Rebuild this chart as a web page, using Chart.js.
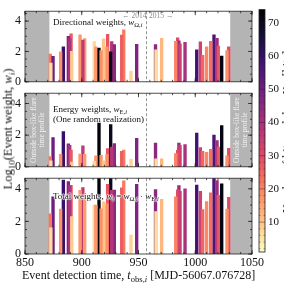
<!DOCTYPE html>
<html>
<head>
<meta charset="utf-8">
<script src="https://cdn.jsdelivr.net/npm/chart.js@4.4.1/dist/chart.umd.min.js"></script>
<style>
  body { margin: 0; background: #fff; }
  #wrap { position: relative; width: 284px; height: 286px; overflow: hidden; font-family: 'Liberation Serif', serif; color: #111; }
  canvas { position: absolute; }
  .txt { position: absolute; white-space: nowrap; line-height: 1; }
  .txt sub { font-size: 72%; vertical-align: -0.3em; line-height: 0; }
  .rot { transform: translate(-50%, -50%) rotate(-90deg); text-align: center; }
  .halo { text-shadow: 0 0 1px #fff, 0 0 1px #fff, 1px 0 1px #fff, -1px 0 1px #fff, 0 1px 1px #fff, 0 -1px 1px #fff; }
</style>
</head>
<body>
<div id="wrap">
  <canvas id="dirChart" style="left:0px;top:0px" width="284" height="93"></canvas>
  <canvas id="energyChart" style="left:0px;top:82px" width="284" height="96"></canvas>
  <canvas id="totalChart" style="left:0px;top:167px" width="284" height="119"></canvas>
  <canvas id="colourBar" style="left:250px;top:0px" width="34" height="286"></canvas>

  <div class="txt rot" style="left:8px;top:129px;font-size:12.5px">Log<sub>10</sub>(Event weight, <i>w<sub>i</sub></i>)</div>
  <div class="txt" style="left:22px;top:269px;font-size:12px">Event detection time, <i>t</i><sub>obs,<i>i</i></sub> [MJD-56067.076728]</div>

  <div class="txt" style="left:122px;top:12px;font-size:7.5px;color:#8a8a8a;width:22px;text-align:right">&larr; 2014</div>
  <div class="txt" style="left:149px;top:12px;font-size:7.5px;color:#8a8a8a">2015 &rarr;</div>
  <div class="txt" style="left:53px;top:18px;font-size:9px">Directional weights, <i>w</i><sub>&Omega;,<i>i</i></sub></div>
  <div class="txt" style="left:53px;top:105px;font-size:9px">Energy weights, <i>w</i><sub>E,<i>i</i></sub></div>
  <div class="txt" style="left:53px;top:115px;font-size:9px">(One random realization)</div>
  <div class="txt halo" style="left:53px;top:192px;font-size:9px">Total weights, <i>w<sub>i</sub></i> = <i>w</i><sub>&Omega;,<i>i</i></sub> &middot; <i>w</i><sub>E,<i>i</i></sub></div>

  <div class="txt rot" style="left:38px;top:130px;font-size:7.5px;color:#f2f2f2;line-height:1.1">Outside box-like flare<br>time profile</div>
  <div class="txt rot" style="left:241px;top:130px;font-size:7.5px;color:#f2f2f2;line-height:1.1">Outside box-like flare<br>time profile</div>

  <div class="txt rot" style="left:287px;top:132px;font-size:12px">Number of hit modules, <i>N</i><sub>ch</sub> [hits]</div>
</div>

<script>
// Events: detection time, colour-bar value, log10 weights
const eventTimes = [872.3, 872.8, 874.7, 881.4, 883.8, 888.2, 889.4, 890.6, 891.2, 898.5,
                    901.0, 902.6, 911.0, 912.4, 915.2, 917.0, 919.2, 922.2, 922.8, 925.5,
                    926.4, 928.7, 935.2, 937.0, 943.4, 948.4, 965.0, 965.4, 970.4, 982.8,
                    984.5, 985.6, 986.6, 991.0, 1001.3, 1004.5, 1006.5, 1010.0, 1013.6, 1016.5,
                    1019.2, 1020.3, 1023.3, 1028.0, 1029.5];
const eventColour = [22, 6, 50, 18, 60, 47, 40, 27, 9, 17,
                     36, 16, 7, 17, 73, 18, 10, 18, 28, 70,
                     38, 45, 26, 21, 8, 47, 45, 6, 12, 20,
                     30, 43, 34, 40, 58, 33, 25, 19, 23, 56,
                     42, 28, 72, 18, 30];
const logWeightDir = [1.82, 1.24, 1.67, 1.98, 2.31, 3.00, 2.85, 3.16, 2.00, 3.10,
                      2.75, 2.85, 2.65, 2.30, 2.22, 2.05, 2.83, 2.30, 3.12, 1.98,
                      2.65, 2.45, 3.08, 3.43, 0.69, 2.47, 2.45, 2.10, 2.86, 2.66,
                      2.90, 2.70, 2.50, 2.60, 2.10, 2.63, 1.75, 2.30, 2.66, 3.10,
                      2.86, 2.35, 1.70, 2.05, 2.30];
const logWeightEnergy = [0.64, 0.37, 1.84, 0.78, 2.23, 1.45, 1.35, 1.06, 0.30, 0.80,
                         1.32, 0.78, 0.35, 0.70, 2.77, 0.72, 0.37, 0.78, 1.15, 2.67,
                         1.25, 1.47, 0.98, 1.06, 0.47, 1.80, 1.50, 0.50, 0.50, 0.84,
                         1.04, 1.50, 1.35, 1.40, 2.13, 1.22, 0.97, 0.92, 1.10, 2.00,
                         1.65, 1.25, 2.60, 0.70, 1.17];

const xTicks = [850, 900, 950, 1000, 1050];
const yTicks = [0, 2, 4];
const colourTicks = [10, 20, 30, 40, 50, 60, 70];
const shadedSpans = [[850, 871.5], [1030.8, 1050]];
const yearBoundary = 956.5;

const X_MIN = 850, X_MAX = 1050, Y_MAX = 4.65;
const C_MIN = 1, C_MAX = 74;
const FONT = 'Liberation Serif';

// matplotlib magma, sampled every 0.1
const magma = ['#000004', '#140e36', '#3b0f70', '#641a80', '#8c2981', '#b73779',
               '#de4968', '#f7705c', '#fe9f6d', '#fecf92', '#fcfdbf'];

function hexToRgb(h) {
    return [parseInt(h.slice(1, 3), 16), parseInt(h.slice(3, 5), 16), parseInt(h.slice(5, 7), 16)];
}

// reversed magma: light at low values, black at high values
function colourFor(v) {
    let t = 1 - (v - C_MIN) / (C_MAX - C_MIN);
    t = Math.max(0, Math.min(1, t)) * (magma.length - 1);
    const i = Math.min(Math.floor(t), magma.length - 2);
    const f = t - i;
    const a = hexToRgb(magma[i]), b = hexToRgb(magma[i + 1]);
    const c = a.map((v0, k) => Math.round(v0 + (b[k] - v0) * f));
    return 'rgb(' + c.join(',') + ')';
}

function drawTicks(ctx, scale, values, len, vertical, area) {
    values.forEach(v => {
        const p = scale.getPixelForValue(v);
        ctx.beginPath();
        if (vertical) {
            ctx.moveTo(p, area.bottom); ctx.lineTo(p, area.bottom - len);
            ctx.moveTo(p, area.top); ctx.lineTo(p, area.top + len);
        } else {
            ctx.moveTo(area.left, p); ctx.lineTo(area.left + len, p);
            ctx.moveTo(area.right, p); ctx.lineTo(area.right - len, p);
        }
        ctx.stroke();
    });
}

// gray spans, dashed year line, frame and inward ticks
const panelDecor = {
    id: 'panelDecor',
    beforeDatasetsDraw(chart) {
        const { ctx, chartArea: a, scales: { x } } = chart;
        ctx.save();
        ctx.fillStyle = '#b4b4b4';
        shadedSpans.forEach(([from, to]) => {
            const x0 = x.getPixelForValue(from), x1 = x.getPixelForValue(to);
            ctx.fillRect(x0, a.top, x1 - x0, a.bottom - a.top);
        });
        ctx.restore();
    },
    afterDatasetsDraw(chart) {
        const { ctx, chartArea: a, scales: { x, y } } = chart;
        ctx.save();
        ctx.strokeStyle = '#7a7a7a';
        ctx.lineWidth = 0.8;
        ctx.setLineDash([3, 2]);
        const xb = Math.round(x.getPixelForValue(yearBoundary)) + 0.5;
        ctx.beginPath();
        ctx.moveTo(xb, a.top);
        ctx.lineTo(xb, a.bottom);
        ctx.stroke();
        ctx.setLineDash([]);

        ctx.strokeStyle = '#222';
        ctx.lineWidth = 0.8;
        ctx.strokeRect(a.left, a.top, a.right - a.left, a.bottom - a.top);

        const minorX = [];
        for (let v = X_MIN; v <= X_MAX; v += 10) minorX.push(v);
        const minorY = [];
        for (let v = 0; v <= Y_MAX; v += 0.5) minorY.push(v);
        drawTicks(ctx, x, minorX, 2, true, a);
        drawTicks(ctx, x, xTicks, 4, true, a);
        drawTicks(ctx, y, minorY, 2, false, a);
        drawTicks(ctx, y, yTicks, 4, false, a);
        ctx.restore();
    }
};

function makePanel(canvasId, values, showX) {
    // taller bars first so the shorter ones stay visible in front
    const points = eventTimes.map((t, i) => ({ x: t, y: values[i], c: eventColour[i] }))
        .sort((p, q) => q.y - p.y);
    const ctx = document.getElementById(canvasId).getContext('2d');
    return new Chart(ctx, {
        type: 'bar',
        data: {
            datasets: [{
                data: points,
                backgroundColor: points.map(p => colourFor(p.c)),
                borderWidth: 0,
                barThickness: 2.7
            }]
        },
        options: {
            responsive: false,
            animation: false,
            layout: { padding: { left: 0, right: 32, top: 0, bottom: 0 } },
            plugins: { legend: { display: false }, tooltip: { enabled: false } },
            scales: {
                x: {
                    type: 'linear',
                    min: X_MIN,
                    max: X_MAX,
                    offset: false,
                    display: showX,
                    grid: { display: false, drawTicks: false },
                    border: { display: false },
                    afterBuildTicks: s => { s.ticks = xTicks.map(v => ({ value: v })); },
                    ticks: {
                        padding: 2,
                        maxRotation: 0,
                        color: '#111',
                        font: { family: FONT, size: 12 },
                        callback: v => String(v)
                    },
                    afterFit: s => { s.height = showX ? 32 : 0; }
                },
                y: {
                    min: 0,
                    max: Y_MAX,
                    grid: { display: false, drawTicks: false },
                    border: { display: false },
                    afterBuildTicks: s => { s.ticks = yTicks.map(v => ({ value: v })); },
                    ticks: {
                        padding: 4,
                        color: '#111',
                        font: { family: FONT, size: 12 },
                        callback: v => String(v)
                    },
                    afterFit: s => { s.width = 25; }
                }
            }
        },
        plugins: [panelDecor]
    });
}

const logWeightTotal = logWeightDir.map((d, i) => d + logWeightEnergy[i]);

makePanel('dirChart', logWeightDir, false);
makePanel('energyChart', logWeightEnergy, false);
makePanel('totalChart', logWeightTotal, true);

// Colour bar
const colourBarFill = {
    id: 'colourBarFill',
    beforeDatasetsDraw(chart) {
        const { ctx, chartArea: a, scales: { y } } = chart;
        const g = ctx.createLinearGradient(0, y.getPixelForValue(C_MIN), 0, y.getPixelForValue(C_MAX));
        for (let k = 0; k <= 40; k++) {
            const v = C_MIN + (C_MAX - C_MIN) * k / 40;
            g.addColorStop(k / 40, colourFor(v));
        }
        ctx.save();
        ctx.fillStyle = g;
        ctx.fillRect(a.left, a.top, a.right - a.left, a.bottom - a.top);
        ctx.strokeStyle = 'rgba(30,30,30,0.7)';
        ctx.lineWidth = 0.6;
        for (let v = 2; v < C_MAX; v += 2) {
            const p = y.getPixelForValue(v);
            const len = v % 10 === 0 ? 3 : 1.5;
            ctx.beginPath();
            ctx.moveTo(a.left, p); ctx.lineTo(a.left + len, p);
            ctx.moveTo(a.right, p); ctx.lineTo(a.right - len, p);
            ctx.stroke();
        }
        ctx.strokeStyle = '#222';
        ctx.lineWidth = 0.8;
        ctx.strokeRect(a.left, a.top, a.right - a.left, a.bottom - a.top);
        ctx.restore();
    }
};

new Chart(document.getElementById('colourBar').getContext('2d'), {
    type: 'scatter',
    data: { datasets: [{ data: [] }] },
    options: {
        responsive: false,
        animation: false,
        layout: { padding: { left: 9, right: 0, top: 7, bottom: 34 } },
        plugins: { legend: { display: false }, tooltip: { enabled: false } },
        scales: {
            x: { display: false, min: 0, max: 1, afterFit: s => { s.height = 0; } },
            y: {
                position: 'right',
                min: C_MIN,
                max: C_MAX,
                grid: { display: false, drawTicks: false },
                border: { display: false },
                afterBuildTicks: s => { s.ticks = colourTicks.map(v => ({ value: v })); },
                ticks: { padding: 3, color: '#111', font: { family: FONT, size: 11 }, callback: v => String(v) },
                afterFit: s => { s.width = 19; }
            }
        }
    },
    plugins: [colourBarFill]
});
</script>
</body>
</html>
